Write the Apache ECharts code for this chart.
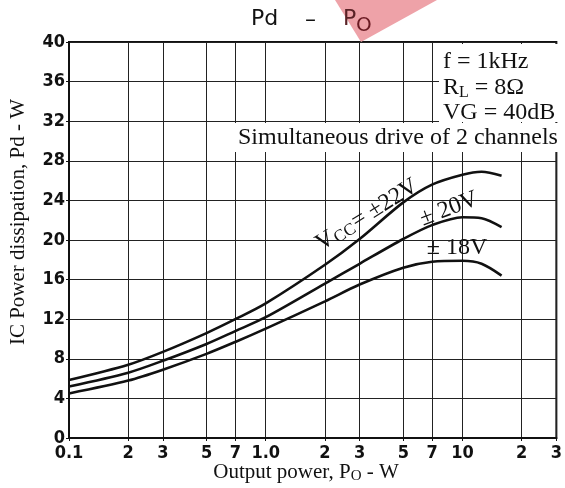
<!DOCTYPE html>
<html><head><meta charset="utf-8">
<script src="https://cdn.jsdelivr.net/npm/echarts@6/dist/echarts.min.js"></script>
<style>html,body{margin:0;padding:0;background:#fff}#c{width:565px;height:488px}</style>
</head><body><div id="c"></div>
<script>
// ---- data ----
const outputPower = [0.1, 0.2, 0.3, 0.5, 0.7, 1, 2, 3, 5, 7, 10, 12.5, 15.8];
const pd22 = [5.85, 7.4, 8.7, 10.6, 12.0, 13.6, 17.5, 20.1, 23.8, 25.6, 26.6, 26.9, 26.5];
const pd20 = [5.2, 6.6, 7.8, 9.5, 10.8, 12.2, 15.6, 17.6, 20.1, 21.5, 22.3, 22.2, 21.3];
const pd18 = [4.5, 5.8, 6.9, 8.5, 9.7, 11.05, 13.8, 15.5, 17.2, 17.8, 17.9, 17.6, 16.4];
const seriesNames = ['±22V', '±20V', '±18V'];
const xTickValues = [0.1, 0.2, 0.3, 0.5, 0.7, 1, 2, 3, 5, 7, 10, 20, 30];
const xTickLabels = ['0.1', '2', '3', '5', '7', '1.0', '2', '3', '5', '7', '10', '2', '3'];
const yMin = 0, yMax = 40, yStep = 4;

const chart = echarts.init(document.getElementById('c'), null, {renderer: 'canvas'});
const pair = arr => outputPower.map((x, i) => [x, arr[i]]);
const tickFont = "'Liberation Sans Narrow','DejaVu Sans Condensed','Liberation Sans',sans-serif";
const serif = "'Liberation Serif','Times New Roman',serif";

function xLabel(v) {
  for (let i = 0; i < xTickValues.length; i++) {
    if (Math.abs(Math.log10(v) - Math.log10(xTickValues[i])) < 1e-6) return xTickLabels[i];
  }
  return '';
}

const lineStyle = {color: '#111', width: 2.6};
const mkSeries = (name, arr) => ({
  name, type: 'line', data: pair(arr), smooth: 0.3, showSymbol: false, symbol: 'none',
  lineStyle, silent: true, z: 3
});

chart.setOption({
  animation: false,
  backgroundColor: '#fff',
  grid: {left: 69, right: 1, top: 42, bottom: 50, show: true, borderColor: '#111', borderWidth: 2, backgroundColor: 'transparent'},
  xAxis: {
    type: 'log', logBase: 10, min: 0.1, max: 30,
    axisLine: {show: true, lineStyle: {color: '#111', width: 2}},
    axisTick: {show: true, length: 3, customValues: xTickValues, lineStyle: {color: '#111'}},
    axisLabel: {customValues: xTickValues, formatter: xLabel, margin: 6, color: '#111',
      fontFamily: tickFont, fontWeight: 'bold', fontSize: 18},
    splitLine: {show: true, lineStyle: {color: '#222', width: 1}},
    minorTick: {show: false}, minorSplitLine: {show: false}
  },
  yAxis: {
    type: 'value', min: yMin, max: yMax, interval: yStep,
    axisLine: {show: true, lineStyle: {color: '#111', width: 2}},
    axisTick: {show: true, length: 3, lineStyle: {color: '#111'}},
    axisLabel: {margin: 4, color: '#111', fontFamily: tickFont, fontWeight: 'bold', fontSize: 18},
    splitLine: {show: true, lineStyle: {color: '#222', width: 1}}
  },
  series: [mkSeries(seriesNames[0], pd22), mkSeries(seriesNames[1], pd20), mkSeries(seriesNames[2], pd18)],
  graphic: [
    {type: 'polygon', z: 20, silent: true, shape: {points: [[335, 0], [437, 0], [361, 42]]}, style: {fill: '#eea2a8'}},
    {type: 'text', z: 21, silent: true, x: 251, y: 19, style: {text: 'Pd', font: "22px 'DejaVu Sans',sans-serif", fill: '#111', align: 'left', verticalAlign: 'middle'}},
    {type: 'text', z: 21, silent: true, x: 305, y: 20, style: {text: '–', font: "22px 'DejaVu Sans',sans-serif", fill: '#111', align: 'left', verticalAlign: 'middle'}},
    {type: 'text', z: 21, silent: true, x: 343, y: 19, style: {text: 'P', font: "22px 'DejaVu Sans',sans-serif", fill: '#5a2226', align: 'left', verticalAlign: 'middle'}},
    {type: 'text', z: 21, silent: true, x: 356, y: 26, style: {text: 'O', font: "20px 'DejaVu Sans',sans-serif", fill: '#6a1a22', align: 'left', verticalAlign: 'middle'}},
    {type: 'rect', z: 20, silent: true, shape: {x: 439, y: 44, width: 123, height: 78}, style: {fill: '#fff'}},
    {type: 'rect', z: 20, silent: true, shape: {x: 234, y: 123, width: 328, height: 29}, style: {fill: '#fff'}},
    {type: 'text', z: 21, silent: true, x: 443, y: 62, style: {text: 'f = 1kHz', font: '24px ' + serif, fill: '#111', verticalAlign: 'middle'}},
    {type: 'text', z: 21, silent: true, x: 443, y: 88, style: {
      text: '{a|R}{s|L}{a| = 8Ω}', fill: '#111', verticalAlign: 'middle',
      rich: {a: {font: '24px ' + serif, fill: '#111', lineHeight: 26, verticalAlign: 'middle'},
             s: {font: '16px ' + serif, fill: '#111', lineHeight: 16, padding: [10, 0, 0, 0], verticalAlign: 'middle'}}}},
    {type: 'text', z: 21, silent: true, x: 443, y: 113, style: {text: 'VG = 40dB', font: '24px ' + serif, fill: '#111', verticalAlign: 'middle'}},
    {type: 'text', z: 21, silent: true, x: 238, y: 138, style: {text: 'Simultaneous drive of 2 channels', font: '24px ' + serif, fill: '#111', verticalAlign: 'middle'}},
    {type: 'text', z: 21, silent: true, x: 367, y: 215, rotation: 32 * Math.PI / 180, style: {
      text: '{a|V}{s|CC}{a|= ±22V}', align: 'center', verticalAlign: 'middle',
      rich: {a: {font: '24px ' + serif, fill: '#111', lineHeight: 24, verticalAlign: 'middle'},
             s: {font: '17px ' + serif, fill: '#111', lineHeight: 17, padding: [8, 1, 0, 1], verticalAlign: 'middle'}}}},
    {type: 'text', z: 21, silent: true, x: 449, y: 209, rotation: 21 * Math.PI / 180, style: {text: '± 20V', font: '24px ' + serif, fill: '#111', align: 'center', verticalAlign: 'middle'}},
    {type: 'text', z: 21, silent: true, x: 457, y: 248, style: {text: '± 18V', font: '24px ' + serif, fill: '#111', align: 'center', verticalAlign: 'middle'}},
    {type: 'text', z: 21, silent: true, x: 306, y: 472, style: {
      text: '{a|Output power, P}{s|O}{a| - W}', align: 'center', verticalAlign: 'middle',
      rich: {a: {font: '21px ' + serif, fill: '#111', lineHeight: 24, verticalAlign: 'middle'},
             s: {font: '15px ' + serif, fill: '#111', lineHeight: 15, padding: [9, 0, 0, 0], verticalAlign: 'middle'}}}},
    {type: 'text', z: 21, silent: true, x: 18, y: 222, rotation: Math.PI / 2, style: {
      text: 'IC Power dissipation, Pd - W', font: '21px ' + serif, fill: '#111', align: 'center', verticalAlign: 'middle'}}
  ]
});
</script></body></html>
